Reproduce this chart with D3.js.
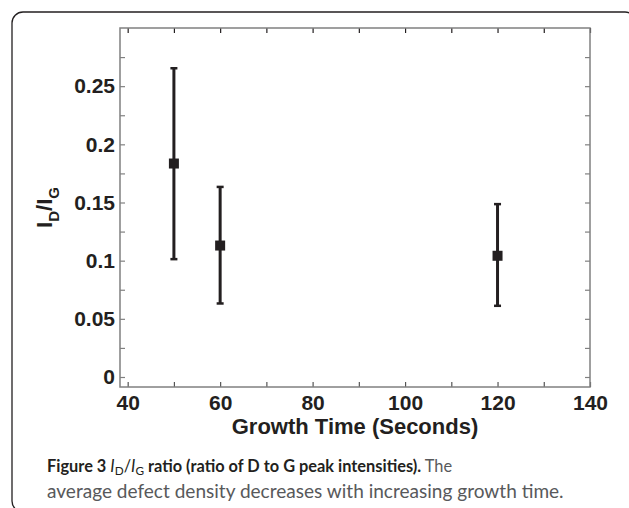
<!DOCTYPE html>
<html>
<head>
<meta charset="utf-8">
<script src="https://cdn.jsdelivr.net/npm/d3@7"></script>
<style>
  body { margin: 0; background: #fff; }
  svg { display: block; }
</style>
</head>
<body>
<div id="chart-area"></div>
<script>

// growth time (s), mean I_D/I_G, lower and upper error limits
var growthTime = [50, 60, 120];
var ratioMean  = [0.1835, 0.113, 0.1042];
var ratioLow   = [0.1013, 0.0632, 0.0612];
var ratioHigh  = [0.2654, 0.1634, 0.1486];

var xTicks = [40, 50, 60, 70, 80, 90, 100, 110, 120, 130, 140];
var xTickLabels = ["40", "", "60", "", "80", "", "100", "", "120", "", "140"];
var yTicks = [0, 0.025, 0.05, 0.075, 0.1, 0.125, 0.15, 0.175, 0.2, 0.225, 0.25, 0.275];
var yTickLabels = ["0", "", "0.05", "", "0.1", "", "0.15", "", "0.2", "", "0.25", ""];

var W = 629, H = 508;
var margin = {top: 28, right: 39, bottom: 121, left: 120},
    width = W - margin.left - margin.right,
    height = H - margin.top - margin.bottom;

var ink = "#231f20", boxGray = "#808080";

var svg = d3.select("#chart-area")
    .append("svg")
        .attr("width", W)
        .attr("height", H);

// figure frame
svg.append("rect")
    .attr("x", 12).attr("y", 12)
    .attr("width", 624).attr("height", 500)
    .attr("rx", 11)
    .attr("fill", "none")
    .attr("stroke", ink)
    .attr("stroke-width", 1.3);

var g = svg.append("g")
        .attr("transform", "translate(" + margin.left + "," + margin.top + ")");

var xScale = d3.scaleLinear().domain([38.34, 140]).range([0, width]);
var yScale = d3.scaleLinear().domain([-0.0086, 0.3]).range([height, 0]);

function lbl(labels, ticks) {
    return function(d) { return labels[ticks.indexOf(d)]; };
}

var xAxis = d3.axisBottom(xScale).tickValues(xTicks).tickSize(-5).tickPadding(8)
    .tickFormat(lbl(xTickLabels, xTicks));
var yAxis = d3.axisLeft(yScale).tickValues(yTicks).tickSize(-5).tickPadding(5)
    .tickFormat(lbl(yTickLabels, yTicks));
var xTop = d3.axisTop(xScale).tickValues(xTicks).tickSize(-5).tickFormat("");
var yRight = d3.axisRight(yScale).tickValues(yTicks).tickSize(-5).tickFormat("");

function styleAxis(sel, tickColor) {
    sel.select(".domain").remove();
    sel.attr("font-family", null).attr("font-size", null);
    sel.selectAll(".tick line").attr("stroke", tickColor).attr("stroke-width", 1.2);
    sel.selectAll(".tick text")
        .attr("fill", ink)
        .style("font-family", "'Liberation Sans', Arial, sans-serif")
        .style("font-weight", "bold")
        .style("font-size", "21px");
}

g.append("g").attr("transform", "translate(0," + height + ")").call(xAxis).call(styleAxis, "#555");
g.append("g").call(yAxis).call(styleAxis, boxGray);
g.append("g").call(xTop).call(styleAxis, ink);
g.append("g").attr("transform", "translate(" + width + ",0)").call(yRight).call(styleAxis, boxGray);

// plot box
g.append("rect")
    .attr("width", width).attr("height", height)
    .attr("fill", "none")
    .attr("stroke", boxGray)
    .attr("stroke-width", 1.5);

// error bars
var pts = growthTime.map(function(t, i) {
    return {x: t, y: ratioMean[i], lo: ratioLow[i], hi: ratioHigh[i]};
});

var bars = g.selectAll(".err").data(pts).enter().append("g").attr("class", "err");
bars.append("line")
    .attr("x1", function(d) { return xScale(d.x); })
    .attr("x2", function(d) { return xScale(d.x); })
    .attr("y1", function(d) { return yScale(d.lo); })
    .attr("y2", function(d) { return yScale(d.hi); })
    .attr("stroke", ink).attr("stroke-width", 3);
["lo", "hi"].forEach(function(k) {
    bars.append("line")
        .attr("x1", function(d) { return xScale(d.x) - 3.5; })
        .attr("x2", function(d) { return xScale(d.x) + 3.5; })
        .attr("y1", function(d) { return yScale(d[k]); })
        .attr("y2", function(d) { return yScale(d[k]); })
        .attr("stroke", ink).attr("stroke-width", 2.5);
});
bars.append("rect")
    .attr("x", function(d) { return xScale(d.x) - 5; })
    .attr("y", function(d) { return yScale(d.y) - 5; })
    .attr("width", 10).attr("height", 10)
    .attr("fill", ink);

// axis titles
var titleFont = "'Liberation Sans', Arial, sans-serif";
g.append("text")
    .attr("x", width / 2).attr("y", 433.5 - margin.top)
    .attr("text-anchor", "middle")
    .attr("fill", ink)
    .style("font-family", titleFont).style("font-weight", "bold").style("font-size", "22px")
    .text("Growth Time (Seconds)");

var yt = g.append("text")
    .attr("transform", "translate(" + (52 - margin.left) + "," + (height / 2) + ") rotate(-90)")
    .attr("text-anchor", "middle")
    .attr("fill", ink)
    .style("font-family", titleFont).style("font-weight", "bold").style("font-size", "22px");
yt.append("tspan").text("I");
yt.append("tspan").attr("dy", 7).style("font-size", "15px").text("D");
yt.append("tspan").attr("dy", -7).text("/I");
yt.append("tspan").attr("dy", 7).style("font-size", "15px").text("G");

// caption
var capFont = "Lato, 'Open Sans', sans-serif";
var capGray = "#58595b";
var cap1 = svg.append("text")
    .attr("x", 47).attr("y", 472)
    .style("font-family", capFont).style("font-size", "16px");
cap1.append("tspan").attr("fill", ink).style("font-weight", "bold").text("Figure 3 ");
cap1.append("tspan").attr("fill", ink).style("font-style", "italic").text("I");
cap1.append("tspan").attr("fill", ink).attr("dy", 3).style("font-size", "0.72em").text("D");
cap1.append("tspan").attr("fill", ink).attr("dy", -3).text("/");
cap1.append("tspan").attr("fill", ink).style("font-style", "italic").text("I");
cap1.append("tspan").attr("fill", ink).attr("dy", 3).style("font-size", "0.72em").text("G");
cap1.append("tspan").attr("fill", ink).attr("dy", -3).style("font-weight", "bold").text(" ratio (ratio of D to G peak intensities).");
cap1.append("tspan").attr("fill", capGray).text(" The");

var cap2 = svg.append("text")
    .attr("x", 47).attr("y", 498)
    .attr("fill", capGray)
    .style("font-family", capFont).style("font-size", "16px")
    .text("average defect density decreases with increasing growth time.");

// fit caption lines to the widths seen in the figure
function fitWidth(sel, target) {
    var w = sel.node().getComputedTextLength();
    sel.style("font-size", (16 * target / w).toFixed(2) + "px");
}
fitWidth(cap1, 405);
fitWidth(cap2, 517);

</script>
</body>
</html>
